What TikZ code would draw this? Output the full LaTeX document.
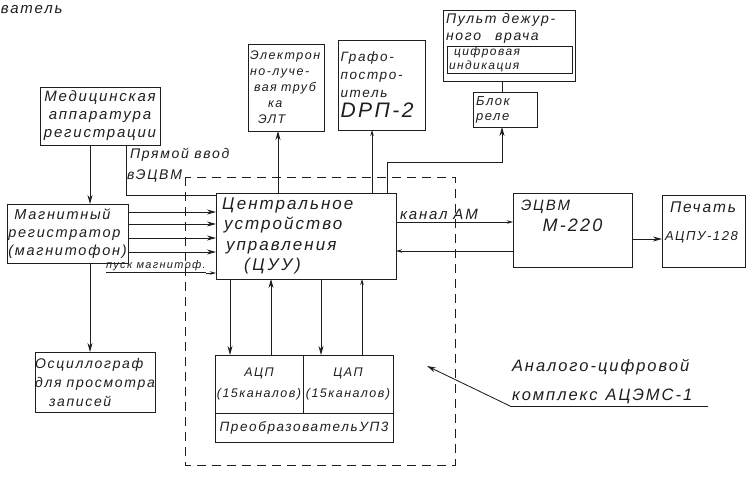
\documentclass[tikz,border=0pt]{standalone}
\usepackage{fontspec}
\setmainfont{Liberation Sans}
\newfontfamily\hw{Liberation Sans}[LetterSpace=12]
\usetikzlibrary{arrows.meta}
\definecolor{ink}{RGB}{30,30,30}
\begin{document}
\begin{tikzpicture}[x=1pt,y=-1pt,
  every node/.style={inner sep=0pt, outer sep=0pt, text=ink},
  fs/.style 2 args={font=\hw\itshape\fontsize{#1}{#2}\selectfont},
  box/.style={draw=ink, line width=0.9pt, align=center, fs={15}{18}},
  lbl/.style={align=left, fs={15}{18}},
  ln/.style={draw=ink, line width=0.85pt},
  arr/.style={ln, -{Stealth[length=9pt,width=5pt]}},
  sarr/.style={ln, -{Stealth[length=6pt,width=3.5pt]}},
  dsh/.style={draw=ink, line width=0.8pt, dash pattern=on 9pt off 6pt}]
\useasboundingbox (0,0) rectangle (749,477);

% boxes
\node[box, minimum width=120, minimum height=58] (med) at (100,116) {Медицинская\\аппаратура\\регистрации};
\node[box, minimum width=76, minimum height=87, fs={12.5}{16}, align=left, text width=72] (elt) at (286,87.5)
  {Электрон\\но-луче-\\\hspace*{4pt}вая труб\\\hspace*{18pt}ка\\\hspace*{8pt}ЭЛТ};
\node[box, minimum width=87, minimum height=90, fs={13.5}{18}, align=left, text width=82] (graf) at (381.5,85)
  {Графо-\\постро-\\итель\\[2pt]{\fontsize{21}{22}\selectfont DPП-2}};
\node[box, minimum width=132, minimum height=71] (pult) at (509,45.5) {};
\node[lbl, fs={14}{17}, anchor=north west] (pultT) at (446,13) {Пульт дежур-\\ного\hspace{14pt}врача};
\node[box, minimum width=125, minimum height=27, fs={12}{13.5}, align=left, text width=121] (cifr) at (509.5,59.5)
  {\hspace*{5pt}цифровая\\индикация};
\node[box, minimum width=64, minimum height=35, fs={13}{15}, align=left, text width=58] (blok) at (505,109.5) {Блок\\реле};
\node[box, minimum width=121, minimum height=59, align=left, fs={14.5}{18}] (mag) at (67.5,233.5)
  {\hspace*{6pt}Магнитный\\регистратор\\(магнитофон)};
\node[box, minimum width=120, minimum height=60, align=left, fs={14}{19}] (osc) at (95,382)
  {Осциллограф\\для\hspace{5pt}просмотра\\\hspace*{14pt}записей};
\node[box, minimum width=180, minimum height=86, fs={17}{20.5}, align=left, text width=172] (cuu) at (306,236)
  {\hspace*{2pt}Центральное\\\hspace*{4pt}устройство\\\hspace*{6pt}управления\\\hspace*{24pt}(\,Ц\,У\,У\,)};
\node[box, minimum width=119, minimum height=74] (evm) at (572.5,230) {};
\node[lbl, anchor=west] (evmA) at ([xshift=8pt,yshift=-14pt]evm.north west) {ЭЦВМ};
\node[lbl, fs={18}{20}] (evmB) at ([yshift=5pt]evm.center) {М-220};
\node[box, minimum width=83, minimum height=72] (pech) at (703.5,231) {};
\node[lbl, fs={15.5}{18}, anchor=west] (pechA) at ([xshift=8pt,yshift=-12pt]pech.north west) {Печать};
\node[lbl, fs={13}{16}, anchor=west] (pechB) at ([xshift=3pt,yshift=-42pt]pech.north west) {АЦПУ-128};
\node[box, minimum width=88, minimum height=58, fs={12.5}{21}] (acp) at (259,384) {АЦП\\(15каналов)};
\node[box, minimum width=90, minimum height=58, fs={12.5}{21}] (cap) at (348,384) {ЦАП\\(15каналов)};
\node[box, minimum width=178, minimum height=29, fs={13.5}{15}] (upz) at (304,427.5) {ПреобразовательУП3};

% labels
\node[lbl, anchor=north west, fs={14}{21}] (priam) at (127,148) {\hspace*{3pt}Прямой ввод\\вЭЦВМ};
\node[lbl, anchor=west] (kanal) at (400,214) {канал АМ};
\node[lbl, fs={11}{12}, anchor=south west] (pusk) at (106,273) {\underline{пуск магнитоф.}};
\node[lbl, anchor=west] (vat) at (1,10) {ватель};
\node[lbl, anchor=west, fs={16.5}{18}] (ana1) at (512,367) {Аналого-цифровой};
\node[lbl, anchor=west, fs={16.5}{18}] (ana2) at (512,396) {комплекс\hspace{8pt}АЦЭМС-1};
\coordinate (annoL) at (510,406);
\coordinate (annoR) at (708,406);
\coordinate (annoTip) at (427,366);

% dashed outline
\draw[dsh] (185,177) rectangle (455,465);

% connectors
\draw[arr] ([xshift=-10pt]med.south) -- ([xshift=-10pt]med.south |- mag.north);
\draw[arr] ([xshift=22.5pt]mag.south) -- ([xshift=22.5pt]mag.south |- osc.north);
\draw[ln] ([xshift=26pt]med.south) |- ([yshift=-2pt]cuu.north west);
\foreach \yy in {212,224,238,252}
  \draw[arr] (mag.east |- 0,\yy) -- (cuu.west |- 0,\yy);
\draw[sarr] (pusk.south east) -- (cuu.west |- pusk.south);
\draw[arr] ([xshift=-8pt]elt.south |- cuu.north) -- ([xshift=-8pt]elt.south);
\draw[sarr] ([xshift=-9.5pt]graf.south |- cuu.north) -- ([xshift=-9.5pt]graf.south);
\draw[arr] (387,193) |- (502,162) -- ([xshift=-3pt]blok.south);
\draw[ln] ([xshift=-7pt]pult.south) -- ([xshift=-3pt]blok.north);
\draw[sarr] (cuu.east |- 0,222) -- (evm.west |- 0,222);
\draw[sarr] (evm.west |- 0,251) -- (cuu.east |- 0,251);
\draw[arr] (evm.east |- 0,239) -- (pech.west |- 0,239);
\draw[arr] (cuu.south -| 230,0) -- (acp.north -| 230,0);
\draw[arr] (acp.north -| 271,0) -- (cuu.south -| 271,0);
\draw[arr] (cuu.south -| 321,0) -- (cap.north -| 321,0);
\draw[sarr] (cap.north -| 362,0) -- (cuu.south -| 362,0);
\draw[ln] (annoR) -- (annoL);
\draw[arr] (annoL) -- (annoTip);
\end{tikzpicture}
\end{document}
